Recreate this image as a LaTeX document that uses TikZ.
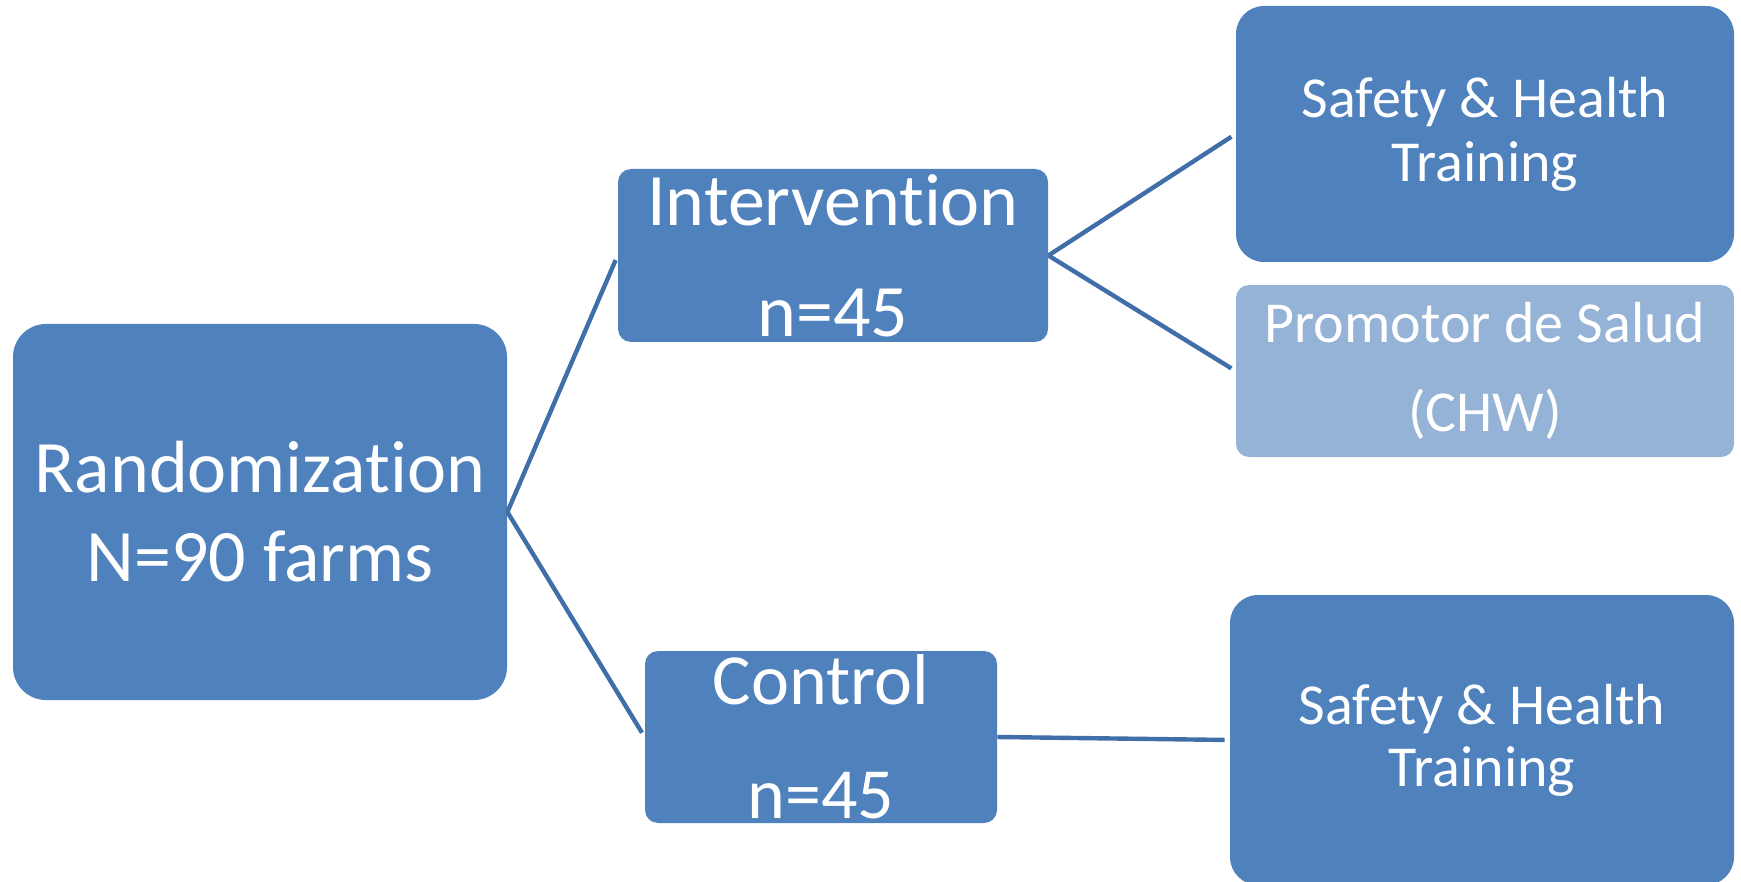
\documentclass[tikz,border=0pt]{standalone}
\usepackage{fontspec}
\setmainfont{Carlito}[RawFeature=-liga]
\definecolor{boxblue}{RGB}{79,129,189}
\definecolor{paleblue}{RGB}{149,179,215}
\definecolor{linkblue}{RGB}{64,110,168}
\begin{document}
\begin{tikzpicture}[x=0.5pt,y=-0.5pt,
  box/.style={fill=boxblue,text=white,align=center,inner sep=0pt},
  link/.style={draw=linkblue,line width=2.2pt,shorten >=2.5pt}]
\useasboundingbox (0,0) rectangle (1741,882);
\coordinate (R) at (260,512);
\coordinate (I) at (833,255.5);
\coordinate (C) at (821,737);
\coordinate (S1) at (1485,134);
\coordinate (P) at (1485,371);
\coordinate (S2) at (1482,740);
\node[box,rounded corners=16.5pt,minimum width=247pt,minimum height=188pt,
  font=\fontsize{37}{44.5}\selectfont] (rand) at (R) {Randomization\\N=90 farms};
\node[box,rounded corners=6.5pt,minimum width=215pt,minimum height=86.5pt,
  font=\fontsize{37}{55.5}\selectfont] (interv) at (I) {Intervention\\n=45};
\node[box,rounded corners=6.5pt,minimum width=176pt,minimum height=86pt,
  font=\fontsize{36}{57}\selectfont] (ctrl) at (C) {Control\\n=45};
\node[box,rounded corners=14pt,minimum width=249pt,minimum height=128pt,
  font=\fontsize{29}{32}\selectfont] (safety1) at (S1) {Safety \& Health\\Training};
\node[box,fill=paleblue,rounded corners=6.5pt,minimum width=249pt,minimum height=86pt,
  font=\fontsize{29}{44.5}\selectfont] (promotor) at (P) {Promotor de Salud\\(CHW)};
\node[box,rounded corners=14pt,minimum width=252pt,minimum height=145pt,
  font=\fontsize{29}{31}\selectfont] (safety2) at (S2) {Safety \& Health\\Training};
\draw[link] (rand.east) -- (interv.west);
\draw[link] (rand.east) -- (ctrl.west);
\draw[link] (interv.east) -- (safety1.west);
\draw[link] (interv.east) -- (promotor.west);
\draw[link] (ctrl.east) -- (safety2.west);
\end{tikzpicture}
\end{document}
